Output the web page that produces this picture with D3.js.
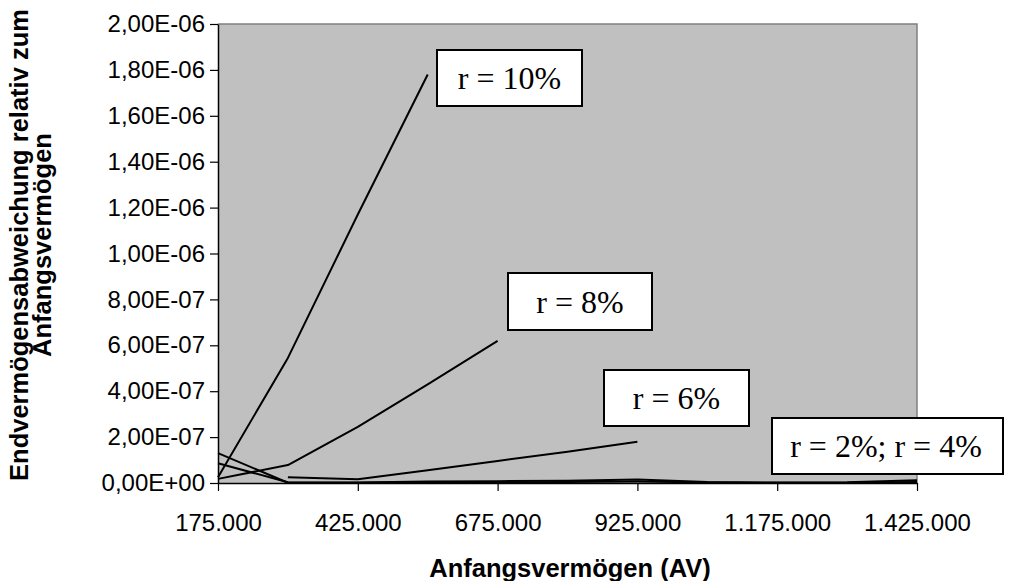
<!DOCTYPE html>
<html>
<head>
<meta charset="utf-8">
<script src="https://cdn.jsdelivr.net/npm/d3@7"></script>
<style>
  body { margin: 0; background: #fff; }
  svg { display: block; }
</style>
</head>
<body>
<svg id="chart" width="1010" height="581"></svg>
<script>
// Initial wealth (AV) categories
const capital = [175000, 300000, 425000, 550000, 675000, 800000, 925000, 1050000, 1175000, 1300000, 1425000];

// Relative deviation of final wealth per interest rate
const r10 = [2.5e-8, 5.45e-7, 1.17e-6, 1.78e-6, null, null, null, null, null, null, null];
const r8  = [1.8e-8, 7.8e-8, 2.45e-7, 4.3e-7, 6.19e-7, null, null, null, null, null, null];
const r6  = [null, 2.5e-8, 1.6e-8, 5.6e-8, 9.6e-8, 1.36e-7, 1.8e-7, null, null, null, null];
const r4  = [8.6e-8, 3e-9, 2e-9, 6e-9, 8e-9, 1e-8, 1.5e-8, 4e-9, 2e-9, 3e-9, 1.2e-8];
const r2  = [1.3e-7, 1e-9, 1e-9, 3e-9, 2e-9, 4e-9, 6e-9, 2e-9, 1e-9, 1e-9, 4e-9];

const seriesList = [r10, r8, r6, r4, r2];

// Axis ticks
const xTicks = [175000, 425000, 675000, 925000, 1175000, 1425000];
const yTicks = [0, 2e-7, 4e-7, 6e-7, 8e-7, 1e-6, 1.2e-6, 1.4e-6, 1.6e-6, 1.8e-6, 2e-6];

// Series labels
const labelTexts = ["r = 10%", "r = 8%", "r = 6%", "r = 2%; r = 4%"];
const labelBoxes = [[437, 50, 145, 56], [508, 273, 144, 57], [604, 370, 145, 56], [772, 418, 231, 56]];

const svg = d3.select("#chart");
const plot = { left: 218, right: 917, top: 24, bottom: 483 };

const x = d3.scaleLinear().domain([175000, 1425000]).range([plot.left, plot.right]);
const y = d3.scaleLinear().domain([0, 2e-6]).range([plot.bottom, plot.top]);

const de = d3.formatLocale({ decimal: ",", thousands: ".", grouping: [3], currency: ["", " €"] });
const fmtX = de.format(",d");
function fmtY(v) {
  if (v === 0) return "0,00E+00";
  const e = Math.floor(Math.log10(v) + 1e-9);
  const m = v / Math.pow(10, e);
  return m.toFixed(2).replace(".", ",") + "E" + (e < 0 ? "-" : "+") + String(Math.abs(e)).padStart(2, "0");
}

const sans = "Liberation Sans, Arial, sans-serif";

// Plot background
svg.append("rect")
  .attr("x", plot.left).attr("y", plot.top)
  .attr("width", plot.right - plot.left).attr("height", plot.bottom - plot.top)
  .attr("fill", "#c0c0c0");
// Top and right frame
svg.append("path")
  .attr("d", `M${plot.left},${plot.top}H${plot.right}V${plot.bottom}`)
  .attr("fill", "none").attr("stroke", "#808080").attr("stroke-width", 1.5);

// Lines
const line = d3.line()
  .defined(d => d[1] != null)
  .x(d => x(d[0]))
  .y(d => y(d[1]));

svg.append("g").selectAll("path")
  .data(seriesList)
  .join("path")
  .attr("d", s => line(capital.map((c, i) => [c, s[i]])))
  .attr("fill", "none")
  .attr("stroke", "#000")
  .attr("stroke-width", 2)
  .attr("stroke-linejoin", "round");

// Y axis
const yAxis = svg.append("g")
  .attr("transform", `translate(${plot.left},0)`)
  .call(d3.axisLeft(y).tickValues(yTicks).tickFormat(fmtY).tickSize(8).tickSizeOuter(0).tickPadding(5));
yAxis.selectAll("text").attr("font-family", sans).attr("font-size", 24).attr("fill", "#000");
yAxis.selectAll("line").attr("stroke", "#000").attr("stroke-width", 1.2);
yAxis.select(".domain").attr("stroke", "#000").attr("stroke-width", 1.5);

// X axis
const xAxis = svg.append("g")
  .attr("transform", `translate(0,${plot.bottom})`)
  .call(d3.axisBottom(x).tickValues(xTicks).tickFormat(fmtX).tickSize(8).tickSizeOuter(0));
xAxis.selectAll("text")
  .attr("font-family", sans).attr("font-size", 24).attr("fill", "#000")
  .attr("y", 48).attr("dy", null);
xAxis.selectAll("line").attr("stroke", "#000").attr("stroke-width", 1.2);
xAxis.select(".domain").attr("stroke", "#000").attr("stroke-width", 1.5);

// Axis titles
svg.append("text")
  .attr("x", 570).attr("y", 577)
  .attr("text-anchor", "middle")
  .attr("font-family", sans)
  .attr("font-weight", "bold").attr("font-size", 25.5)
  .text("Anfangsvermögen (AV)");

const yTitle = svg.append("text")
  .attr("transform", "translate(0,245) rotate(-90)")
  .attr("text-anchor", "middle")
  .attr("font-family", sans)
  .attr("font-weight", "bold").attr("font-size", 25.5);
yTitle.append("tspan").attr("x", 0).attr("y", 28).text("Endvermögensabweichung relativ zum");
yTitle.append("tspan").attr("x", 0).attr("y", 51).text("Anfangsvermögen");

// Label boxes
const boxes = svg.append("g").selectAll("g")
  .data(labelTexts.map((t, i) => ({ t, b: labelBoxes[i] })))
  .join("g");
boxes.append("rect")
  .attr("x", d => d.b[0]).attr("y", d => d.b[1])
  .attr("width", d => d.b[2]).attr("height", d => d.b[3])
  .attr("fill", "#fff").attr("stroke", "#000").attr("stroke-width", 2);
boxes.append("text")
  .attr("x", d => d.b[0] + Math.min(d.b[2], 220) / 2 + (d.b[2] > 200 ? 4 : 0))
  .attr("y", d => d.b[1] + d.b[3] / 2 + 11)
  .attr("text-anchor", "middle")
  .attr("font-family", "Liberation Serif, Times New Roman, serif")
  .attr("font-size", 32)
  .text(d => d.t);
</script>
</body>
</html>
